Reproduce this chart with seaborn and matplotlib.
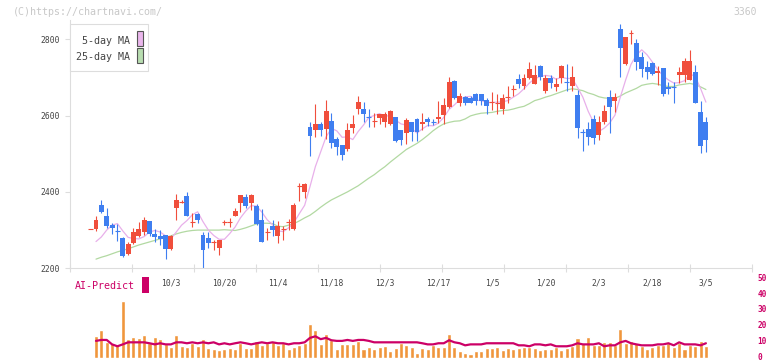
import numpy as np
import pandas as pd
import matplotlib
matplotlib.use("Agg")
import matplotlib.pyplot as plt
from matplotlib.patches import Rectangle
from matplotlib.transforms import ScaledTranslation
import seaborn as sns

# ---------------- data ----------------
# first candle is a lone doji drawn one slot before the volume series starts
opens = [2303, 2303, 2366, 2337, 2314, 2300, 2279, 2237, 2267, 2285, 2296,
         2324, 2289, 2285, 2287, 2250, 2359, 2373, 2389, 2320, 2342,
         2287, 2280, 2267, 2254, 2320, 2320, 2338, 2370, 2386, 2372,
         2362, 2326, 2293, 2311, 2285, 2302, 2320, 2303, 2414, 2401,
         2571, 2561, 2578, 2564, 2586, 2539, 2523, 2513, 2568, 2616,
         2617, 2596, 2585, 2593, 2584, 2577, 2595, 2562, 2555, 2582,
         2591, 2578, 2590, 2585, 2591, 2602, 2621, 2691, 2634, 2648,
         2645, 2657, 2657, 2641, 2634, 2633, 2617, 2648, 2669, 2696,
         2678, 2698, 2683, 2730, 2665, 2698, 2674, 2699, 2690, 2678,
         2654, 2559, 2565, 2591, 2549, 2584, 2648, 2639, 2827, 2734,
         2816, 2789, 2753, 2728, 2737, 2711, 2724, 2674, 2676, 2705,
         2707, 2693, 2713, 2609, 2583]
highs = [2303, 2337, 2379, 2357, 2318, 2315, 2283, 2268, 2306, 2322, 2333,
         2325, 2302, 2299, 2288, 2286, 2395, 2378, 2399, 2344, 2346,
         2296, 2294, 2274, 2275, 2326, 2331, 2357, 2393, 2394, 2395,
         2368, 2355, 2305, 2326, 2325, 2312, 2330, 2370, 2423, 2422,
         2582, 2631, 2582, 2641, 2606, 2545, 2524, 2580, 2602, 2650,
         2636, 2616, 2606, 2605, 2610, 2615, 2597, 2563, 2593, 2583,
         2593, 2606, 2596, 2590, 2637, 2645, 2702, 2692, 2658, 2650,
         2650, 2658, 2657, 2645, 2661, 2656, 2656, 2676, 2680, 2709,
         2709, 2740, 2733, 2731, 2706, 2706, 2698, 2731, 2735, 2730,
         2667, 2564, 2582, 2602, 2599, 2628, 2667, 2660, 2840, 2806,
         2824, 2801, 2766, 2743, 2740, 2730, 2725, 2689, 2689, 2727,
         2750, 2772, 2733, 2637, 2597]
lows = [2303, 2298, 2345, 2305, 2290, 2272, 2230, 2236, 2264, 2283, 2287,
        2285, 2268, 2261, 2224, 2249, 2326, 2370, 2337, 2309, 2318,
        2202, 2252, 2248, 2235, 2313, 2309, 2337, 2347, 2357, 2353,
        2314, 2268, 2274, 2285, 2265, 2274, 2300, 2300, 2375, 2384,
        2495, 2545, 2547, 2538, 2514, 2497, 2484, 2508, 2554, 2603,
        2584, 2571, 2571, 2578, 2569, 2575, 2531, 2523, 2526, 2534,
        2534, 2561, 2573, 2575, 2580, 2578, 2620, 2644, 2624, 2628,
        2632, 2628, 2628, 2604, 2615, 2604, 2604, 2634, 2650, 2672,
        2669, 2695, 2682, 2692, 2658, 2672, 2663, 2686, 2663, 2663,
        2541, 2507, 2523, 2526, 2536, 2578, 2555, 2609, 2700, 2733,
        2788, 2720, 2702, 2696, 2706, 2679, 2652, 2657, 2634, 2686,
        2689, 2692, 2633, 2501, 2504]
closes = [2303, 2326, 2348, 2311, 2305, 2297, 2231, 2263, 2294, 2302, 2326,
          2290, 2281, 2277, 2251, 2285, 2379, 2374, 2338, 2322, 2326,
          2248, 2265, 2269, 2274, 2322, 2323, 2351, 2392, 2364, 2392,
          2315, 2270, 2295, 2300, 2311, 2303, 2321, 2366, 2416, 2421,
          2547, 2578, 2561, 2613, 2529, 2517, 2497, 2562, 2578, 2636,
          2603, 2594, 2587, 2604, 2604, 2613, 2532, 2536, 2589, 2558,
          2556, 2584, 2582, 2583, 2597, 2628, 2689, 2645, 2650, 2634,
          2634, 2639, 2639, 2624, 2636, 2635, 2647, 2651, 2670, 2683,
          2698, 2722, 2705, 2702, 2699, 2685, 2683, 2730, 2688, 2700,
          2567, 2557, 2543, 2542, 2582, 2613, 2621, 2648, 2778, 2805,
          2818, 2739, 2722, 2713, 2709, 2717, 2657, 2669, 2675, 2713,
          2743, 2743, 2634, 2521, 2535]

ma5 = [2270, 2282, 2300, 2313,
       2317, 2298, 2281, 2278, 2277, 2283, 2295, 2299, 2295, 2285,
       2277, 2295, 2313, 2325, 2340, 2348, 2322, 2300, 2286, 2276,
       2276, 2291, 2308, 2332, 2350, 2364, 2363, 2347, 2327, 2314,
       2298, 2296, 2306, 2320, 2343, 2365, 2414, 2466, 2505, 2544,
       2566, 2560, 2543, 2544, 2537, 2558, 2575, 2595, 2600, 2605,
       2598, 2600, 2588, 2578, 2575, 2566, 2554, 2565, 2574, 2573,
       2580, 2595, 2616, 2628, 2642, 2649, 2650, 2640, 2639, 2634,
       2634, 2635, 2636, 2639, 2648, 2657, 2670, 2685, 2696, 2702,
       2705, 2703, 2695, 2700, 2697, 2697, 2674, 2648, 2611, 2582,
       2558, 2567, 2580, 2601, 2648, 2693, 2734, 2758, 2772, 2759,
       2740, 2720, 2704, 2693, 2685, 2686, 2691, 2709, 2702, 2671, 2635]

ma25 = [2224, 2229, 2233, 2238, 2243, 2247, 2251, 2256, 2261, 2265,
        2269, 2273, 2277, 2281, 2285, 2290, 2294, 2297, 2299, 2300,
        2300, 2300, 2300, 2300,
        2301, 2300, 2299, 2302, 2306, 2311, 2316, 2318, 2318, 2317,
        2310, 2309, 2313, 2317, 2324, 2332, 2339, 2349, 2360, 2370,
        2379, 2386, 2393, 2400, 2408, 2416, 2426, 2436, 2445, 2456,
        2466, 2478, 2489, 2500, 2511, 2519, 2527, 2537, 2548, 2560,
        2570, 2578, 2582, 2585, 2586, 2591, 2599, 2603, 2606, 2607,
        2608, 2611, 2613, 2614, 2617, 2621, 2624, 2631, 2639, 2643,
        2648, 2652, 2657, 2662, 2667, 2670, 2668, 2665, 2659, 2655,
        2649, 2646, 2645, 2645, 2651, 2659, 2665, 2671, 2679, 2682,
        2684, 2682, 2678, 2676, 2676, 2680, 2682, 2684, 2681, 2675, 2668]

volume = [13.9, 17.7, 10.1, 9.7, 8.4, 36.0, 12.0, 13.3, 12.4, 14.6,
          9.7, 13.3, 12.0, 8.7, 7.2, 14.6, 7.6, 7.0, 9.7, 7.6,
          12.0, 6.3, 5.7, 5.1, 5.7, 6.3, 5.7, 9.7, 6.3, 6.3,
          10.8, 8.2, 9.5, 10.8, 8.4, 9.5, 5.7, 7.0, 8.2, 9.7,
          21.5, 17.7, 9.0, 15.2, 11.2, 5.7, 8.9, 8.9, 8.9, 10.8,
          5.7, 7.0, 5.7, 7.0, 7.6, 4.4, 6.3, 9.5, 8.2, 7.0,
          3.2, 6.3, 5.7, 8.2, 7.0, 7.0, 15.2, 7.0, 4.4, 3.2,
          2.5, 4.4, 4.4, 6.3, 6.3, 7.0, 5.1, 6.3, 5.7, 6.3,
          7.0, 7.0, 6.3, 5.1, 5.7, 5.7, 7.0, 5.1, 6.3, 7.6,
          12.7, 9.5, 13.3, 8.2, 8.2, 10.1, 10.1, 8.2, 18.4, 9.5,
          10.8, 9.5, 7.6, 5.7, 7.0, 8.2, 8.2, 9.5, 7.0, 9.5,
          5.7, 8.2, 7.6, 10.8, 7.6]

ai_predict = [10.8, 11.4, 11.4, 8.6, 7.4, 8.6, 9.9, 9.9, 9.9, 9.9,
              9.3, 8.6, 9.3, 8.6, 8.6, 9.9, 9.9, 9.3, 9.9, 9.3,
              9.9, 9.3, 9.9, 8.6, 9.3, 8.6, 9.3, 9.9, 9.3, 8.6,
              9.3, 9.9, 9.3, 9.9, 9.3, 9.3, 8.6, 9.3, 9.3, 9.9,
              12.7, 13.7, 11.9, 12.7, 11.2, 10.8, 10.8, 11.4, 10.8, 11.4,
              11.4, 10.8, 9.9, 9.9, 9.9, 9.9, 9.9, 9.9, 9.9, 9.9,
              9.9, 9.3, 8.6, 8.6, 9.3, 9.3, 11.2, 9.9, 9.3, 8.0,
              8.6, 8.6, 8.6, 9.3, 9.3, 9.3, 9.3, 9.3, 9.3, 8.0,
              8.0, 7.4, 8.6, 8.6, 8.0, 8.6, 7.4, 7.4, 7.4, 8.0,
              9.3, 8.6, 8.6, 8.6, 9.3, 7.4, 8.0, 8.0, 9.9, 10.8,
              9.3, 8.6, 8.0, 8.0, 8.0, 8.6, 8.6, 9.3, 8.0, 9.9,
              8.6, 8.6, 8.6, 8.0, 9.3]

date_labels = ['10/3', '10/20', '11/4', '11/18', '12/3', '12/17',
               '1/5', '1/20', '2/3', '2/18', '3/5']
date_label_idx = [14, 24, 34, 44, 54, 64, 74, 84, 94, 104, 114]
price_ticks = [2200, 2400, 2600, 2800]
ai_ticks = [0, 10, 20, 30, 40, 50]

# ---------------- styling ----------------
W, H = 772, 361
RED = '#f04e3c'
BLUE = '#3f7ef0'
ORANGE = '#f0963c'
MAGENTA = '#cc0066'
GRID = '#dddddd'
TXT = '#444444'

sns.set_style("white")
plt.rcParams['font.family'] = ['DejaVu Sans Mono', 'DejaVu Sans']

fig = plt.figure(figsize=(W / 100, H / 100), dpi=100)


def fx(px):
    return px / W


def fy(py):
    return 1 - py / H


STEP = 5.35
X_FIRST = 96.0
X0 = (70 - X_FIRST) / STEP
X1 = (752 - X_FIRST) / STEP

ax = fig.add_axes([fx(70), fy(268.3), (752 - 70) / W, (268.3 - 20) / H])
ax2 = fig.add_axes([fx(70), fy(358), (752 - 70) / W, (358 - 270) / H])

pos = np.arange(len(volume))
cpos = np.arange(-1, len(closes) - 1)

# moving averages
df_ma = pd.DataFrame({'pos': pos, 'ma5': ma5, 'ma25': ma25})
sns.lineplot(data=df_ma, x='pos', y='ma25', color='#b2d9a2', lw=0.9, ax=ax, zorder=1)
sns.lineplot(data=df_ma, x='pos', y='ma5', color='#e8b0ea', lw=0.9, ax=ax, zorder=1)

# candles
o = np.array(opens, float)
c = np.array(closes, float)
hi = np.array(highs, float)
lo = np.array(lows, float)
cols = np.where(c >= o, RED, BLUE)
ax.vlines(cpos, lo, hi, colors=cols, lw=0.8, zorder=2)
body = np.abs(c - o)
thick = body > 3
ax.bar(cpos[thick], body[thick], bottom=np.minimum(o, c)[thick], width=0.92,
       color=cols[thick], linewidth=0, zorder=3)
ax.hlines(((o + c) / 2)[~thick], cpos[~thick] - 0.46, cpos[~thick] + 0.46,
          colors=cols[~thick], lw=0.8, zorder=3)

ax.set_xlim(X0, X1)
ax.set_ylim(2200, 2850)
ax.set_xlabel('')
ax.set_ylabel('')
major = [(70 + 62 * k - X_FIRST) / STEP for k in range(12)]
ax.set_xticks(major)
ax.set_xticklabels([])
ax.set_xticks(date_label_idx, minor=True)
ax.set_xticklabels(date_labels, minor=True)
ax.tick_params(axis='x', which='major', bottom=True, direction='inout', length=6,
               width=0.8, color=GRID)
ax.tick_params(axis='x', which='minor', bottom=True, length=0, pad=7.5,
               labelsize=5.8, labelcolor=TXT)
ax.set_yticks(price_ticks)
ax.set_yticklabels([str(t) for t in price_ticks])
ax.tick_params(axis='y', left=True, direction='out', length=3.6, width=0.8,
               color=GRID, pad=4, labelsize=5.8, labelcolor=TXT)
for s in ['top', 'right']:
    ax.spines[s].set_visible(False)
for s in ['left', 'bottom']:
    ax.spines[s].set_color(GRID)
    ax.spines[s].set_linewidth(0.8)

# volume / AI panel
df_v = pd.DataFrame({'pos': pos, 'vol': volume, 'ai': ai_predict})
sns.barplot(data=df_v, x='pos', y='vol', native_scale=True, color=ORANGE,
            saturation=1, width=0.75, errorbar=None, ax=ax2, zorder=1)
sns.lineplot(data=df_v, x='pos', y='ai', color=MAGENTA, lw=1.6, ax=ax2, zorder=2)
ax2.set_xlim(X0, X1)
ax2.set_ylim(0, (358 - 270) / 1.584)
ax2.set_xlabel('')
ax2.set_ylabel('')
ax2.set_xticks([])
ax2.yaxis.tick_right()
ax2.set_yticks(ai_ticks)
ax2.set_yticklabels([str(t) for t in ai_ticks])
ax2.tick_params(axis='y', right=True, length=0, pad=3.8, labelsize=5.6,
                labelcolor=MAGENTA)
shift_up = ScaledTranslation(0, 1.5 / 100, fig.dpi_scale_trans)
for lab in ax2.get_yticklabels():
    lab.set_transform(lab.get_transform() + shift_up)
    lab.set_fontweight('bold')
for s in ax2.spines.values():
    s.set_visible(False)
ax2.patch.set_alpha(0)

# legend box
fig.add_artist(Rectangle((fx(70), fy(71)), 78 / W, 47 / H, transform=fig.transFigure,
                         facecolor='white', edgecolor=GRID, lw=0.8, zorder=10))
fig.text(fx(129.5), fy(40.7), '5-day MA', ha='right', va='center', fontsize=7.2,
         color=TXT, zorder=11)
fig.text(fx(129.5), fy(56.7), '25-day MA', ha='right', va='center', fontsize=7.2,
         color=TXT, zorder=11)
fig.add_artist(Rectangle((fx(136.5), fy(46)), 6 / W, 15 / H, transform=fig.transFigure,
                         facecolor='#eab6ec', edgecolor='#555555', lw=0.8, zorder=11))
fig.add_artist(Rectangle((fx(136.5), fy(63)), 6 / W, 15 / H, transform=fig.transFigure,
                         facecolor='#b8ddb0', edgecolor='#555555', lw=0.8, zorder=11))

# header texts
fig.text(fx(13), fy(12), '(C)https://chartnavi.com/', ha='left', va='center',
         fontsize=7.2, color='#c8c8c8')
fig.text(fx(757), fy(12), '3360', ha='right', va='center', fontsize=7, color='#c8c8c8')

# AI-Predict label
fig.text(fx(75), fy(286), 'AI-Predict', ha='left', va='center', fontsize=7.2,
         color=MAGENTA)
fig.add_artist(Rectangle((fx(142.3), fy(292.7)), 6.7 / W, 16 / H,
                         transform=fig.transFigure, facecolor=MAGENTA,
                         edgecolor='none', zorder=10))

fig.savefig('out.png', dpi=100)
